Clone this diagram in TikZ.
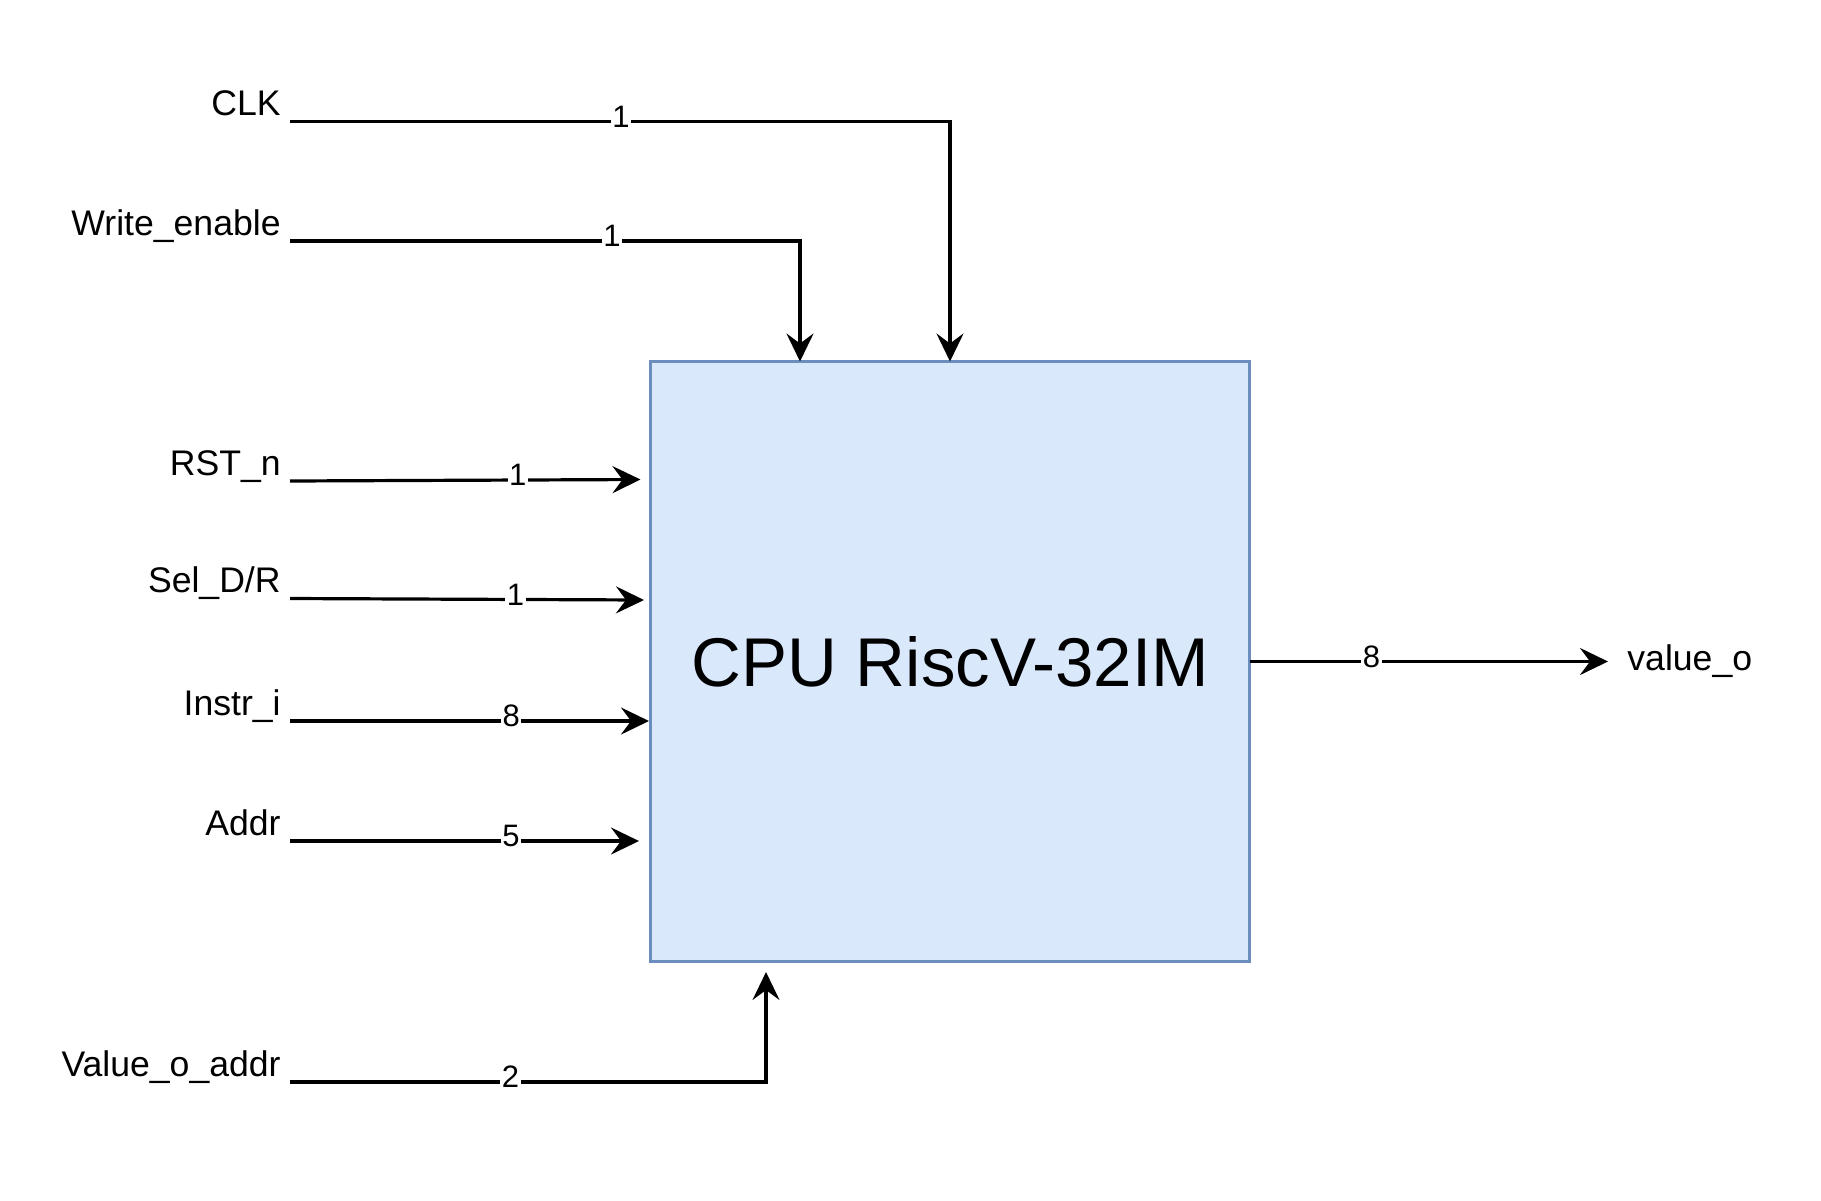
\documentclass[tikz,border=0pt]{standalone}
\usepackage{fontspec}
\setmainfont{Liberation Sans}
\usetikzlibrary{arrows.meta}

\definecolor{cpufill}{HTML}{DAE8FC}
\definecolor{cpuline}{HTML}{6C8EBF}

\tikzset{
  wire/.style={line width=1.6pt, -{Stealth[length=14pt,width=13.5pt,inset=5pt]}},
  sig/.style={font=\fontsize{17.8}{20}\selectfont, inner sep=0pt},
  bits/.style={font=\fontsize{15.5}{17}\selectfont, fill=white, inner sep=0.8pt, yshift=2.5pt},
}

\begin{document}
\begin{tikzpicture}[x=0.5pt,y=-0.5pt]
        \useasboundingbox (0,0) rectangle (1821,1200);
        \fill [white] (0,0) rectangle (1821,1200);

        %Shape: Rectangle [cpu]
        \node (cpu) [draw=cpuline, fill=cpufill, line width=1.5pt, minimum width=299.5pt, minimum height=300pt, inner sep=0pt, outer sep=0pt, font=\fontsize{34.5}{40}\selectfont] at (950,661.5) {CPU RiscV-32IM};

        % Text Node
        \node (clk) [sig, anchor=base east] at (281,115.5) {CLK};
        % Text Node
        \node (we) [sig, anchor=base east] at (281,235) {Write\_enable};
        % Text Node
        \node (rst) [sig, anchor=base east] at (281,475) {RST\_n};
        % Text Node
        \node (sel) [sig, anchor=base east] at (281,592.5) {Sel\_D/R};
        % Text Node
        \node (instr) [sig, anchor=base east] at (281,715) {Instr\_i};
        % Text Node
        \node (addr) [sig, anchor=base east] at (281,835) {Addr};
        % Text Node
        \node (voa) [sig, anchor=base east] at (281,1076) {Value\_o\_addr};
        % Text Node
        \node (valo) [sig, anchor=base west] at (1627,670) {value\_o};

        %Wire ends
        \coordinate (clk-w) at (290,121.5);
        \coordinate (we-w) at (290,241);
        \coordinate (we-in) at (800,361.5);
        \coordinate (rst-w) at (290,481);
        \coordinate (rst-in) at (640.5,479.5);
        \coordinate (sel-w) at (290,598.5);
        \coordinate (sel-in) at (644,600);
        \coordinate (instr-w) at (290,721);
        \coordinate (instr-in) at (649,721);
        \coordinate (addr-w) at (290,841);
        \coordinate (addr-in) at (639,841);
        \coordinate (voa-w) at (290,1082);
        \coordinate (voa-in) at (766,972);
        \coordinate (valo-tip) at (1608,661.5);

        %Straight Lines
        \draw [wire] (clk-w) -| node [bits, pos=0.2507] {1} (cpu.north);
        \draw [wire] (we-w) -| node [bits, pos=0.3157] {1} (we-in);
        \draw [wire] (rst-w) -- node [bits, pos=0.650] {1} (rst-in);
        \draw [wire] (sel-w) -- node [bits, pos=0.637] {1} (sel-in);
        \draw [wire] (instr-w) -- node [bits, pos=0.616] {8} (instr-in);
        \draw [wire] (addr-w) -- node [bits, pos=0.633] {5} (addr-in);
        \draw [wire] (voa-w) -| node [bits, pos=0.2315] {2} (voa-in);
        \draw [wire] (cpu.east) -- node [bits, pos=0.34] {8} (valo-tip);

\end{tikzpicture}
\end{document}
